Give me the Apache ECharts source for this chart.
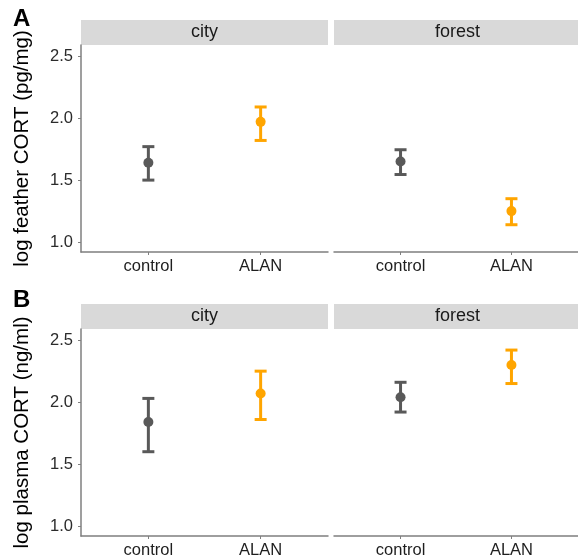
<!DOCTYPE html>
<html>
<head>
<meta charset="utf-8">
<script src="https://cdn.jsdelivr.net/npm/echarts@6/dist/echarts.min.js"></script>
<style>
  html, body { margin: 0; padding: 0; background: #fff; }
  #chart { width: 578px; height: 560px; }
</style>
</head>
<body>
<div id="chart"></div>
<script>
// categories
const groups = ['control', 'ALAN']
const habitats = ['city', 'forest']
const groupColors = ['#595959', '#FFA500']
const yTicks = [1.0, 1.5, 2.0, 2.5]

// A: log feather CORT (pg/mg)
const featherCityMean = [1.64, 1.97]
const featherCityLow = [1.50, 1.82]
const featherCityHigh = [1.77, 2.09]
const featherForestMean = [1.65, 1.25]
const featherForestLow = [1.545, 1.14]
const featherForestHigh = [1.745, 1.35]

// B: log plasma CORT (ng/ml)
const plasmaCityMean = [1.84, 2.07]
const plasmaCityLow = [1.60, 1.86]
const plasmaCityHigh = [2.03, 2.25]
const plasmaForestMean = [2.04, 2.30]
const plasmaForestLow = [1.92, 2.15]
const plasmaForestHigh = [2.16, 2.42]

const font = 'Liberation Sans, Arial, sans-serif'
const axisGrey = '#7f7f7f'

// panel boxes (grid layout)
const panels = [
  { left: 81, top: 45, title: 'log feather CORT (pg/mg)', mean: featherCityMean, low: featherCityLow, high: featherCityHigh },
  { left: 334, top: 45, mean: featherForestMean, low: featherForestLow, high: featherForestHigh },
  { left: 81, top: 329, title: 'log plasma CORT (ng/ml)', mean: plasmaCityMean, low: plasmaCityLow, high: plasmaCityHigh },
  { left: 334, top: 329, mean: plasmaForestMean, low: plasmaForestLow, high: plasmaForestHigh }
]
const panelW = 247, panelH = 207, stripH = 25

let grid = [], xAxis = [], yAxis = [], series = [], graphic = []

panels.forEach((p, i) => {
  grid.push({ left: p.left, top: p.top, width: panelW, height: panelH })
  xAxis.push({
    type: 'value', gridIndex: i, min: -0.6, max: 1.6,
    axisLine: { show: true, onZero: false, lineStyle: { color: axisGrey, width: 1.5 } },
    axisTick: { show: true, length: 3, customValues: [0, 1], lineStyle: { color: axisGrey } },
    axisLabel: {
      customValues: [0, 1], margin: 6, fontSize: 16.5, color: '#1e1e1e', fontFamily: font,
      formatter: v => groups[Math.round(v)]
    },
    splitLine: { show: false }
  })
  let left = p.left < 100
  yAxis.push({
    type: 'value', gridIndex: i, min: 0.92, max: 2.59,
    show: left,
    name: p.title || '', nameLocation: 'middle', nameGap: 48,
    nameTextStyle: { fontSize: 20.5, color: '#000', fontFamily: font },
    axisLine: { show: true, onZero: false, lineStyle: { color: axisGrey, width: 1.5 } },
    axisTick: { show: true, length: 3, customValues: yTicks, lineStyle: { color: axisGrey } },
    axisLabel: {
      customValues: yTicks, margin: 8, fontSize: 16.5, color: '#2b2b2b', fontFamily: font,
      formatter: v => v.toFixed(1)
    },
    splitLine: { show: false }
  })

  // error bars
  series.push({
    type: 'custom', xAxisIndex: i, yAxisIndex: i,
    data: groups.map((g, k) => [k, p.low[k], p.high[k]]),
    renderItem: function (params, api) {
      let x = api.value(0)
      let lo = api.coord([x, api.value(1)])
      let hi = api.coord([x, api.value(2)])
      let c = groupColors[x]
      let st = { stroke: c, lineWidth: 3 }
      return {
        type: 'group',
        children: [
          { type: 'line', shape: { x1: lo[0], y1: lo[1], x2: hi[0], y2: hi[1] }, style: st },
          { type: 'line', shape: { x1: lo[0] - 6, y1: lo[1], x2: lo[0] + 6, y2: lo[1] }, style: st },
          { type: 'line', shape: { x1: hi[0] - 6, y1: hi[1], x2: hi[0] + 6, y2: hi[1] }, style: st }
        ]
      }
    },
    z: 2
  })
  // means
  series.push({
    type: 'scatter', xAxisIndex: i, yAxisIndex: i,
    symbolSize: 10,
    data: groups.map((g, k) => [k, p.mean[k]]),
    itemStyle: { color: params => groupColors[params.data[0]], opacity: 1 },
    z: 3
  })

  // facet strip
  graphic.push({
    type: 'rect', left: p.left, top: p.top - stripH,
    shape: { width: panelW, height: stripH },
    style: { fill: '#d9d9d9' }
  })
  graphic.push({
    type: 'text', x: p.left + panelW / 2, y: p.top - stripH / 2,
    style: {
      text: habitats[i % 2], fill: '#1a1a1a', font: '18px ' + font,
      textAlign: 'center', textVerticalAlign: 'middle'
    }
  })
})

// panel letters
graphic.push({ type: 'text', x: 13, y: 7, style: { text: 'A', fill: '#000', font: 'bold 24px ' + font } })
graphic.push({ type: 'text', x: 13, y: 288, style: { text: 'B', fill: '#000', font: 'bold 24px ' + font } })

const chart = echarts.init(document.getElementById('chart'))
chart.setOption({
  animation: false,
  grid: grid,
  xAxis: xAxis,
  yAxis: yAxis,
  series: series,
  graphic: graphic
})
</script>
</body>
</html>
